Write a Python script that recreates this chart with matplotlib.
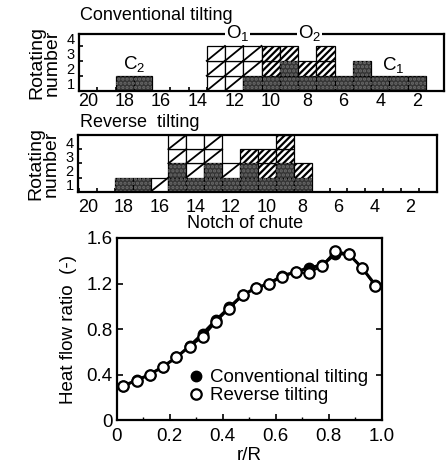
import matplotlib
matplotlib.use("Agg")
import matplotlib.pyplot as plt
from matplotlib.patches import Rectangle

plt.rcParams['font.family'] = ['Liberation Sans', 'DejaVu Sans']
plt.rcParams['mathtext.fontset'] = 'custom'
plt.rcParams['mathtext.rm'] = 'Liberation Sans'
plt.rcParams['hatch.linewidth'] = 1.6

# ---------------- data ----------------
# cell codes, stacked from rotating number 1 upward:
# D = dark (stippled), H = dense hatch, S = single diagonal, E = empty box
conv_notches = [18, 17, 13, 12, 11, 10, 9, 8, 7, 6, 5, 4, 3, 2]
conv_stacks = ["D", "D", "SSS", "SSS", "DSS", "DHH", "DDH", "DH", "DHH",
               "D", "DD", "D", "D", "D"]

rev_notches = [18, 17, 16, 15, 14, 13, 12, 11, 10, 9, 8]
rev_stacks = ["D", "D", "S", "DDSS", "DSSE", "DDSS", "DS", "DDH", "DHH",
              "DDHH", "DH"]

notch_ticks = [20, 18, 16, 14, 12, 10, 8, 6, 4, 2]
rot_labels = ["1", "2", "3", "4"]

r_R = [0.025, 0.075, 0.125, 0.175, 0.225, 0.275, 0.325, 0.375, 0.425, 0.475,
       0.525, 0.575, 0.625, 0.675, 0.725, 0.775, 0.825, 0.875, 0.925, 0.975]
conv_heat = [0.30, 0.35, 0.40, 0.47, 0.55, 0.65, 0.76, 0.88, 0.99, 1.10,
             1.16, 1.20, 1.27, 1.30, 1.34, 1.36, 1.46, 1.46, 1.34, 1.19]
rev_heat = [0.30, 0.345, 0.40, 0.47, 0.55, 0.645, 0.73, 0.865, 0.98, 1.095,
            1.157, 1.195, 1.26, 1.298, 1.29, 1.357, 1.485, 1.46, 1.34, 1.18]

W, H = 448, 465
fig = plt.figure(figsize=(W / 100, H / 100), dpi=100)


def fax(l, t, r, b):
    return fig.add_axes([l / W, 1 - b / H, (r - l) / W, (b - t) / H])


def draw_cells(ax, notches, stacks):
    for n, st in zip(notches, stacks):
        for row, code in enumerate(st):
            x0 = n - 0.5
            if code == 'D':
                ax.add_patch(Rectangle((x0, row), 1, 1, facecolor='#353535',
                                       edgecolor='black', lw=0.9, zorder=2))
                ax.add_patch(Rectangle((x0, row), 1, 1, facecolor='none',
                                       edgecolor='#6a6a6a', lw=0, hatch='....',
                                       zorder=2.1))
            elif code == 'H':
                ax.add_patch(Rectangle((x0, row), 1, 1, facecolor='white',
                                       edgecolor='black', lw=0.9,
                                       hatch='/////', zorder=2))
            else:
                ax.add_patch(Rectangle((x0, row), 1, 1, facecolor='white',
                                       edgecolor='black', lw=0.9, zorder=2))
                if code == 'S':
                    ax.plot([n + 0.5, n - 0.5], [row, row + 1], color='black',
                            lw=1.3, zorder=2.2)


def style_panel(ax, ylim_top, xpad):
    ax.set_ylim(0, ylim_top)
    ax.set_xticks(notch_ticks)
    ax.set_xticks([v + 0.5 for v in range(0, 21)], minor=True)
    ax.set_yticks([0.5, 1.5, 2.5, 3.5])
    ax.set_yticklabels(rot_labels)
    ax.set_yticks([1, 2, 3], minor=True)
    ax.tick_params(axis='x', which='major', length=0, labelsize=13, pad=xpad)
    ax.tick_params(axis='y', which='major', length=0, labelsize=10.5, pad=3)
    ax.tick_params(axis='both', which='minor', direction='in', length=3,
                   width=1.2)
    for s in ax.spines.values():
        s.set_linewidth(1.6)
    ax.set_ylabel("Rotating\nnumber", fontsize=14, linespacing=0.9,
                  labelpad=4)


# ---- top panel: conventional tilting ----
ax1 = fax(79, 34, 444, 90.7)
ax1.set_xlim(20.4, 0.5)
draw_cells(ax1, conv_notches, conv_stacks)
style_panel(ax1, 3.8, 2)
ax1.text(11.8, 3.8, "O$_1$", ha='center', va='center', fontsize=13.5,
         bbox=dict(facecolor='white', edgecolor='none', pad=0.5), zorder=5,
         clip_on=False)
ax1.text(7.85, 3.8, "O$_2$", ha='center', va='center', fontsize=13.5,
         bbox=dict(facecolor='white', edgecolor='none', pad=0.5), zorder=5,
         clip_on=False)
ax1.text(17.45, 1.7, "C$_2$", ha='center', va='center', fontsize=13.5)
ax1.text(3.3, 1.65, "C$_1$", ha='center', va='center', fontsize=13.5)
fig.text(80 / W, 1 - 15 / H, "Conventional tilting", fontsize=13,
         ha='left', va='center')

# ---- middle panel: reverse tilting ----
ax2 = fax(78, 135, 437, 191.7)
ax2.set_xlim(20.55, 0.75)
draw_cells(ax2, rev_notches, rev_stacks)
style_panel(ax2, 4.0, 5)
fig.text(80 / W, 1 - 122 / H, "Reverse  tilting", fontsize=13,
         ha='left', va='center')
fig.text(245 / W, 1 - 223 / H, "Notch of chute", fontsize=13,
         ha='center', va='center')

# ---- bottom: heat flow ratio ----
ax3 = fax(116.7, 238, 381.7, 420)
ax3.plot(r_R, conv_heat, color='black', lw=2.2, marker='o', markersize=7.5,
         markerfacecolor='black', markeredgecolor='black',
         label='Conventional tilting', zorder=3)
ax3.plot(r_R, rev_heat, color='black', lw=1.5, marker='o', markersize=7.5,
         markerfacecolor='white', markeredgecolor='black', mew=1.6,
         label='Reverse tilting', zorder=4)
ax3.set_xlim(0, 1.0)
ax3.set_ylim(0, 1.6)
ax3.set_xticks([0, 0.2, 0.4, 0.6, 0.8, 1.0])
ax3.set_xticklabels(["0", "0.2", "0.4", "0.6", "0.8", "1.0"])
ax3.set_xticks([0.1, 0.3, 0.5, 0.7, 0.9], minor=True)
ax3.set_yticks([0, 0.4, 0.8, 1.2, 1.6])
ax3.set_yticklabels(["0", "0.4", "0.8", "1.2", "1.6"])
ax3.tick_params(axis='both', which='major', direction='in', length=4,
                width=1.2, labelsize=13.5, right=True)
ax3.tick_params(axis='x', which='major', pad=6)
ax3.tick_params(axis='y', which='major', pad=3)
ax3.tick_params(axis='x', which='minor', direction='in', length=2.5,
                width=1.0)
for s in ax3.spines.values():
    s.set_linewidth(1.6)
ax3.set_xlabel("r/R", fontsize=13.5, labelpad=1)
ax3.set_ylabel("Heat flow ratio  (-)", fontsize=13.5, labelpad=7)
leg = ax3.legend(loc='upper left', bbox_to_anchor=(0.27, 0.28),
                 frameon=False, fontsize=13.5, handlelength=0.8,
                 handletextpad=0.35, labelspacing=0.05, borderpad=0,
                 borderaxespad=0)
for h in leg.legend_handles:
    h.set_linestyle('none')

fig.savefig("out.png", dpi=100)
